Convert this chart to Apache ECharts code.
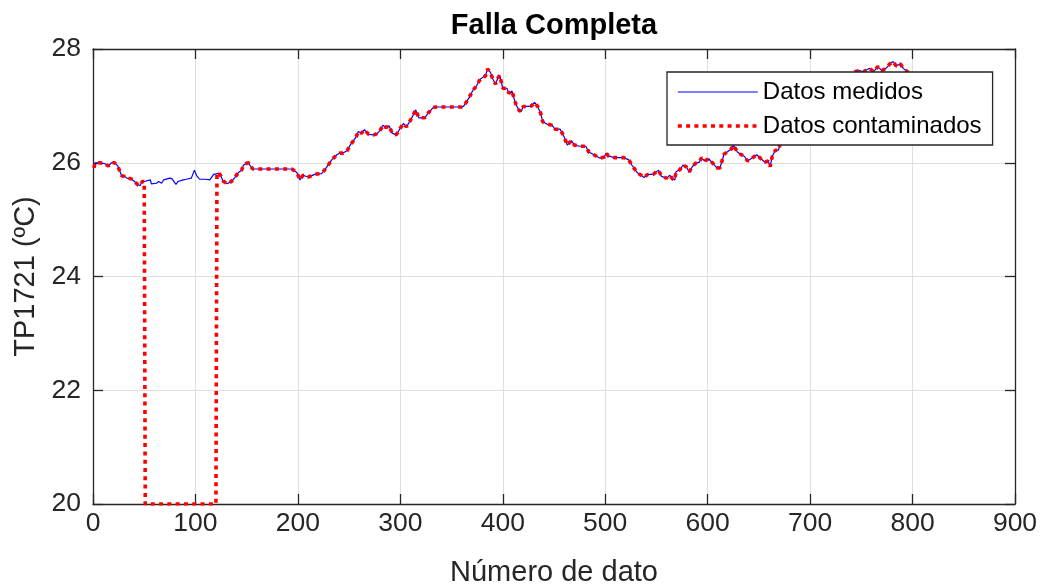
<!DOCTYPE html>
<html>
<head>
<meta charset="utf-8">
<script src="https://cdn.jsdelivr.net/npm/echarts@6/dist/echarts.min.js"></script>
<style>html,body{margin:0;padding:0;background:#fff}#c{width:1043px;height:588px}</style>
</head>
<body>
<div id="c"></div>
<script>
const titleText = 'Falla Completa';
const xName = 'Número de dato';
const yName = 'TP1721 (ºC)';
const seriesNames = ['Datos medidos', 'Datos contaminados'];

const dataIdx = [1,2,7,12,15,18,21,24,26,28,31,33,37,40,44,46,48,50,51,56,57,62,64,67,69,75,77,81,83,88,91,96,99,101,104,110,114,118,120,121,123,125,127,131,135,138,142,145,147,150,152,153,156,160,170,180,190,194,195,199,202,205,210,213,217,223,226,230,233,238,241,244,248,251,254,257,259,262,265,269,274,277,280,283,286,289,292,296,300,303,306,309,312,315,318,324,327,332,335,345,355,360,362,367,371,374,378,381,383,385,388,390,393,395,397,398,400,404,406,409,411,413,416,418,420,425,428,431,434,437,439,443,448,451,456,460,463,467,470,475,481,484,489,495,499,501,503,509,518,523,526,531,535,538,541,547,552,555,560,563,566,568,569,573,576,579,582,585,588,592,594,597,601,605,609,612,616,619,623,625,629,632,636,639,643,648,652,656,659,661,663,666,669,671,675,680,686,692,698,705,712,720,728,735,740,744,748,752,755,758,762,766,770,774,778,781,784,788,791,795,800];

const measured = [25.91,26.00,26.00,25.98,25.94,26.00,26.00,25.95,25.86,25.77,25.76,25.73,25.72,25.68,25.61,25.60,25.67,25.67,25.67,25.70,25.63,25.64,25.67,25.64,25.70,25.73,25.72,25.62,25.67,25.70,25.71,25.73,25.87,25.78,25.71,25.71,25.70,25.80,25.80,25.82,25.82,25.76,25.68,25.63,25.67,25.73,25.83,25.87,25.96,25.99,26.00,25.96,25.89,25.89,25.89,25.89,25.89,25.89,25.86,25.83,25.70,25.78,25.75,25.77,25.80,25.81,25.87,25.97,26.05,26.14,26.17,26.17,26.21,26.31,26.38,26.46,26.55,26.52,26.58,26.50,26.49,26.51,26.56,26.66,26.62,26.65,26.52,26.49,26.61,26.69,26.63,26.72,26.82,26.93,26.79,26.79,26.87,26.97,26.98,26.98,26.98,26.98,27.00,27.14,27.28,27.34,27.47,27.51,27.52,27.65,27.59,27.48,27.38,27.48,27.54,27.55,27.31,27.31,27.22,27.26,27.13,27.02,26.92,26.90,26.99,26.99,27.00,27.06,26.99,26.87,26.72,26.68,26.66,26.59,26.59,26.45,26.31,26.39,26.31,26.29,26.29,26.19,26.14,26.08,26.10,26.17,26.12,26.09,26.09,26.05,25.96,25.83,25.78,25.74,25.79,25.80,25.87,25.76,25.73,25.78,25.71,25.70,25.84,25.88,25.96,25.93,25.84,25.93,25.99,26.01,26.09,26.03,26.07,25.99,25.91,25.91,26.15,26.19,26.24,26.31,26.19,26.15,26.11,26.03,26.08,26.14,26.07,26.01,26.03,25.93,26.11,26.22,26.22,26.34,26.45,26.55,26.62,26.70,26.82,26.90,27.02,27.15,27.30,27.42,27.52,27.60,27.62,27.60,27.63,27.66,27.60,27.69,27.62,27.66,27.74,27.78,27.70,27.74,27.66,27.60,27.55];

const contaminated = [25.91,26.00,26.00,25.98,25.94,26.00,26.00,25.95,25.86,25.77,25.76,25.73,25.72,25.68,25.61,25.60,25.67,25.67,20,20,20,20,20,20,20,20,20,20,20,20,20,20,20,20,20,20,20,20,20,25.82,25.82,25.76,25.68,25.63,25.67,25.73,25.83,25.87,25.96,25.99,26.00,25.96,25.89,25.89,25.89,25.89,25.89,25.89,25.86,25.83,25.70,25.78,25.75,25.77,25.80,25.81,25.87,25.97,26.05,26.14,26.17,26.17,26.21,26.31,26.38,26.46,26.55,26.52,26.58,26.50,26.49,26.51,26.56,26.66,26.62,26.65,26.52,26.49,26.61,26.69,26.63,26.72,26.82,26.93,26.79,26.79,26.87,26.97,26.98,26.98,26.98,26.98,27.00,27.14,27.28,27.34,27.47,27.51,27.52,27.65,27.59,27.48,27.38,27.48,27.54,27.55,27.31,27.31,27.22,27.26,27.13,27.02,26.92,26.90,26.99,26.99,27.00,27.06,26.99,26.87,26.72,26.68,26.66,26.59,26.59,26.45,26.31,26.39,26.31,26.29,26.29,26.19,26.14,26.08,26.10,26.17,26.12,26.09,26.09,26.05,25.96,25.83,25.78,25.74,25.79,25.80,25.87,25.76,25.73,25.78,25.71,25.70,25.84,25.88,25.96,25.93,25.84,25.93,25.99,26.01,26.09,26.03,26.07,25.99,25.91,25.91,26.15,26.19,26.24,26.31,26.19,26.15,26.11,26.03,26.08,26.14,26.07,26.01,26.03,25.93,26.11,26.22,26.22,26.34,26.45,26.55,26.62,26.70,26.82,26.90,27.02,27.15,27.30,27.42,27.52,27.60,27.62,27.60,27.63,27.66,27.60,27.69,27.62,27.66,27.74,27.78,27.70,27.74,27.66,27.60,27.55];

const xRange = [0, 900, 100];
const yRange = [20, 28, 2];

const FONT = '"Liberation Sans", Arial, Helvetica, sans-serif';
const AX = '#262626';
const BLUE_LINE = {color: '#0000ff', width: 1.2};
const RED_LINE = {color: '#ff0000', width: 3.6, type: [4, 4.3], cap: 'butt'};
const HIDDEN_SYMBOL = {color: 'rgba(0,0,0,0)', borderWidth: 0, opacity: 0};

const chart = echarts.init(document.getElementById('c'), null, {renderer: 'canvas'});

const axisCommon = {
  axisLine: {show: true, onZero: false, lineStyle: {color: AX, width: 1.3}},
  axisTick: {show: true, inside: true, length: 10, lineStyle: {color: AX, width: 1.3}},
};

chart.setOption({
  animation: false,
  backgroundColor: '#fff',
  title: {
    text: titleText, left: 554, top: 11, padding: 0, textAlign: 'center',
    textStyle: {fontFamily: FONT, fontSize: 29, fontWeight: 'bold', color: '#000'}
  },
  legend: {
    data: [
      {name: seriesNames[0], itemStyle: HIDDEN_SYMBOL, lineStyle: BLUE_LINE},
      {name: seriesNames[1], itemStyle: HIDDEN_SYMBOL, lineStyle: RED_LINE}
    ],
    orient: 'vertical', left: 667, top: 72,
    padding: [5, 11, 4, 9], itemGap: 4, itemWidth: 80, itemHeight: 14,
    selectedMode: false, backgroundColor: '#fff', borderColor: AX, borderWidth: 1.3,
    itemStyle: HIDDEN_SYMBOL,
    textStyle: {fontFamily: FONT, fontSize: 24, color: '#000', lineHeight: 30}
  },
  grid: {left: 93, right: 28, top: 49, bottom: 84, containLabel: false, outerBoundsMode: 'none'},
  xAxis: [
    Object.assign({
      type: 'value', min: xRange[0], max: xRange[1], interval: xRange[2], position: 'bottom',
      name: xName, nameLocation: 'middle', nameGap: 54,
      nameTextStyle: {fontFamily: FONT, fontSize: 29, color: AX},
      axisLabel: {fontFamily: FONT, fontSize: 26.5, color: AX, margin: 6},
      splitLine: {show: true, lineStyle: {color: '#dfdfdf', width: 1}}
    }, axisCommon),
    Object.assign({
      type: 'value', min: xRange[0], max: xRange[1], interval: xRange[2], position: 'top',
      axisLabel: {show: false}, splitLine: {show: false}
    }, axisCommon)
  ],
  yAxis: [
    Object.assign({
      type: 'value', min: yRange[0], max: yRange[1], interval: yRange[2], position: 'left',
      name: yName, nameLocation: 'middle', nameGap: 47, nameRotate: 90,
      nameTextStyle: {fontFamily: FONT, fontSize: 29, color: AX},
      axisLabel: {fontFamily: FONT, fontSize: 26.5, color: AX, margin: 12},
      splitLine: {show: true, lineStyle: {color: '#dfdfdf', width: 1}}
    }, axisCommon),
    Object.assign({
      type: 'value', min: yRange[0], max: yRange[1], interval: yRange[2], position: 'right',
      axisLabel: {show: false}, splitLine: {show: false}
    }, axisCommon)
  ],
  series: [
    {
      name: seriesNames[0], type: 'line', xAxisIndex: 0, yAxisIndex: 0,
      data: dataIdx.map((x, i) => [x, measured[i]]),
      showSymbol: false, symbol: 'none',
      lineStyle: BLUE_LINE,
      itemStyle: {color: '#0000ff'}
    },
    {
      name: seriesNames[1], type: 'line', xAxisIndex: 0, yAxisIndex: 0,
      data: dataIdx.map((x, i) => [x, contaminated[i]]),
      showSymbol: false, symbol: 'none',
      lineStyle: RED_LINE,
      itemStyle: {color: '#ff0000'}
    }
  ]
});
</script>
</body>
</html>
